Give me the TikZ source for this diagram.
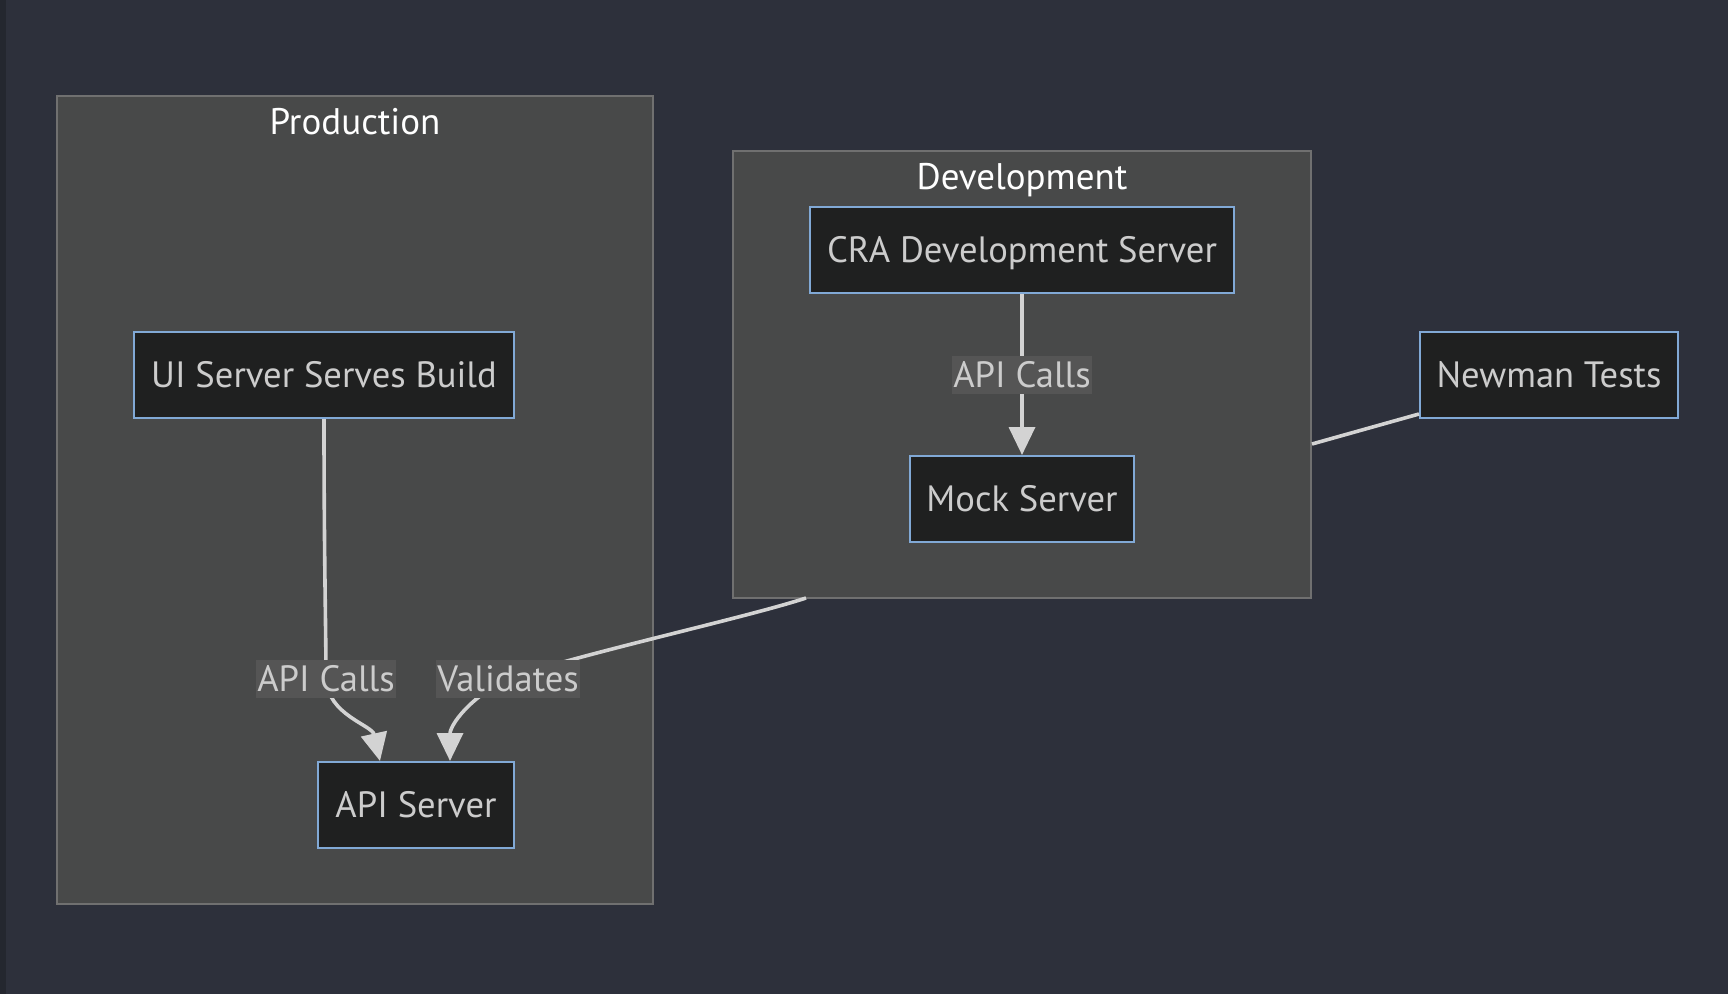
\documentclass[tikz,border=0pt]{standalone}
\usepackage{fontspec}
\setmainfont{PT Sans}
\usepackage{tikz}
\usetikzlibrary{arrows.meta}
\usetikzlibrary{positioning}
\definecolor{bgdark}{RGB}{45,48,59}
\definecolor{bgstrip}{RGB}{36,39,47}
\definecolor{clusterfill}{RGB}{72,73,73}
\definecolor{clusterline}{RGB}{112,112,112}
\definecolor{boxfill}{RGB}{31,32,32}
\definecolor{boxline}{RGB}{129,169,214}
\definecolor{edgecol}{RGB}{211,211,211}
\definecolor{textcol}{RGB}{204,204,204}
\definecolor{labelbg}{RGB}{85,85,85}
\tikzstyle{cluster}=[rectangle,draw=clusterline,fill=clusterfill,line width=1pt,inner sep=0pt]
\tikzstyle{ctitle}=[text=white,font=\fontsize{18.5}{22}\selectfont,inner sep=0pt,text height=12.8pt,text depth=0pt]
\tikzstyle{box}=[rectangle,draw=boxline,fill=boxfill,line width=1pt,text=textcol,font=\fontsize{18.3}{22}\selectfont,inner sep=0pt,minimum height=43pt,text height=12.8pt,text depth=0pt]
\tikzstyle{elabel}=[rectangle,fill=labelbg,text=textcol,font=\fontsize{18.3}{22}\selectfont,inner xsep=0.5pt,inner ysep=3pt,text height=12.8pt,text depth=0pt]
\tikzstyle{edge}=[draw=edgecol,line width=1.8pt]
\tikzstyle{arrow}=[edge,-{Triangle[length=14pt,width=13pt]}]
\tikzset{every picture/.style={
    x=0.5pt,y=-0.5pt
  }
}
\begin{document}
\begin{tikzpicture}
    \fill[bgdark] (0,0) rectangle (1728,994);
    \fill[bgstrip] (0,0) rectangle (6,994);
    \useasboundingbox (0,0) rectangle (1728,994);
    \node[cluster,minimum width=298pt,minimum height=404pt] at (355,500) (prod) {};
    \node[ctitle] at (355,122) (prodtitle) {Production};
    \node[cluster,minimum width=289pt,minimum height=223.5pt] at (1022,374.5) (dev) {};
    \node[ctitle] at (1022,177) (devtitle) {Development};
    \node[box,minimum width=190pt] at (324,375) (ui) {UI Server Serves Build};
    \node[box,minimum width=98pt] at (416,805) (api) {API Server};
    \node[box,minimum width=212pt] at (1022,250) (cra) {CRA Development Server};
    \node[box,minimum width=112pt] at (1022,499) (mock) {Mock Server};
    \node[box,minimum width=129pt] at (1549,375) (newman) {Newman Tests};
    \coordinate (devcalls) at (1022,375);
    \coordinate (uicalls) at (326,679);
    \coordinate (valid) at (508,679);
    \coordinate (devfoot) at (806,598);
    \coordinate (devside) at (dev.east |- 0,444);
    \draw[arrow] (cra) -- (mock);
    \draw[arrow] (ui.south) .. controls (324,560) and (326,630) .. (uicalls) .. controls (328,715) and (372,725) .. ([xshift=-18pt]api.north);
    \draw[arrow] (devfoot) .. controls (745,618) and (575,655) .. (valid) .. controls (470,697) and (450,725) .. ([xshift=17pt]api.north);
    \draw[edge] (newman.south west) ++(0,-5) -- (devside);
    \node[elabel] at (devcalls) (devcallstext) {API Calls};
    \node[elabel] at (uicalls) (uicallstext) {API Calls};
    \node[elabel] at (valid) (validtext) {Validates};
  \end{tikzpicture}
\end{document}
